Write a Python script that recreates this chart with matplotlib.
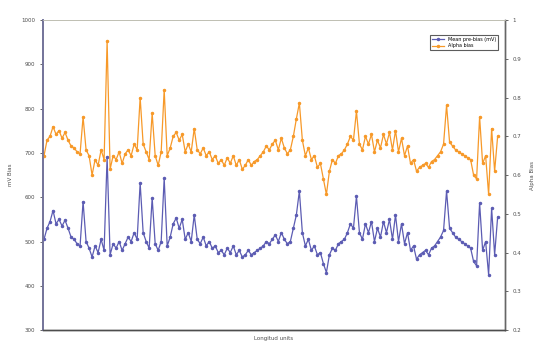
import matplotlib.pyplot as plt
import numpy as np

# mean pre-bias (left axis, mV), one value per sample
pre_bias = [
    505, 530, 545, 570, 540, 550, 535, 548, 530, 510,
    505, 495, 490, 590, 500, 485, 465, 490, 475, 505,
    480, 690, 470, 495, 485, 500, 480, 495, 510, 500,
    520, 505, 632, 520, 500, 485, 598, 495, 480, 500,
    643, 490, 510, 540, 553, 530, 550, 505, 520, 500,
    560, 505, 495, 510, 490, 500, 485, 490, 475, 480,
    470, 485, 475, 490, 470, 480, 465, 470, 480, 470,
    475, 480, 485, 490, 500, 495, 505, 515, 500, 520,
    505, 495, 500, 530, 560, 614, 520, 490, 505, 480,
    490, 470, 475, 450, 430, 470, 485, 480, 495, 500,
    505, 520, 540, 530, 602, 520, 505, 540, 520, 545,
    500, 530, 510, 545, 520, 550, 505, 560, 500, 540,
    495, 520, 480, 490, 460, 470, 475, 480, 470, 485,
    490, 500, 510, 525, 614, 530, 520, 510, 505, 500,
    495, 490, 485, 455, 445, 587, 480, 500, 425, 575,
    470, 555,
]

# alpha bias (right axis)
alpha_bias = [
    0.650, 0.690, 0.700, 0.725, 0.705, 0.715, 0.695, 0.710, 0.690, 0.675,
    0.670, 0.660, 0.655, 0.750, 0.665, 0.650, 0.600, 0.640, 0.625, 0.665,
    0.640, 0.946, 0.615, 0.650, 0.640, 0.660, 0.630, 0.655, 0.665, 0.650,
    0.680, 0.665, 0.800, 0.680, 0.660, 0.640, 0.760, 0.650, 0.625, 0.660,
    0.820, 0.650, 0.670, 0.700, 0.710, 0.690, 0.705, 0.660, 0.680, 0.660,
    0.720, 0.665, 0.655, 0.670, 0.650, 0.660, 0.640, 0.650, 0.630, 0.640,
    0.625, 0.645, 0.630, 0.650, 0.625, 0.640, 0.615, 0.625, 0.640, 0.625,
    0.635, 0.640, 0.650, 0.660, 0.675, 0.665, 0.680, 0.690, 0.665, 0.695,
    0.670, 0.655, 0.665, 0.700, 0.745, 0.786, 0.690, 0.650, 0.670, 0.640,
    0.650, 0.620, 0.630, 0.590, 0.550, 0.610, 0.640, 0.630, 0.650, 0.655,
    0.665, 0.680, 0.700, 0.690, 0.765, 0.680, 0.665, 0.700, 0.680, 0.705,
    0.660, 0.690, 0.670, 0.705, 0.680, 0.710, 0.665, 0.715, 0.660, 0.695,
    0.650, 0.675, 0.630, 0.640, 0.610, 0.620, 0.625, 0.630, 0.620, 0.635,
    0.640, 0.650, 0.660, 0.680, 0.780, 0.685, 0.675, 0.665, 0.660, 0.655,
    0.650, 0.645, 0.640, 0.600, 0.590, 0.750, 0.630, 0.650, 0.550, 0.720,
    0.610, 0.700,
]

left_ticks = [300, 400, 500, 600, 700, 800, 900, 1000]
right_ticks = [0.2, 0.3, 0.4, 0.5, 0.6, 0.7, 0.8, 0.9, 1]


def main():
    width = 542
    height = 346
    ppi = 100
    fig = plt.figure(figsize=(width / ppi, height / ppi), dpi=ppi)
    ax = fig.add_axes([0.079, 0.046, 0.853, 0.896])
    ax2 = ax.twinx()

    blue = (0.36, 0.36, 0.70)
    orange = (0.97, 0.60, 0.16)
    grey = (0.30, 0.30, 0.30)

    xs = np.arange(len(pre_bias))

    l1, = ax.plot(xs, pre_bias, '-', color=blue, linewidth=0.9,
                  marker='o', markersize=1.5)
    l2, = ax2.plot(xs, alpha_bias, '-', color=orange, linewidth=0.9,
                   marker='o', markersize=1.5)

    ax.set_xlim(-0.4, len(pre_bias) + 1.5)
    ax.set_ylim(300, 1000)
    ax2.set_ylim(0.2, 1)
    ax.set_yticks(left_ticks)
    ax.set_yticklabels([str(t) for t in left_ticks])
    ax2.set_yticks(right_ticks)
    ax2.set_yticklabels([str(t) for t in right_ticks])
    ax.set_xticks([])

    ax.tick_params(axis='y', labelsize=4, colors=grey, length=2, width=0.6)
    ax2.tick_params(axis='y', labelsize=4, colors=grey, length=2, width=0.6)

    for a in (ax, ax2):
        a.spines['top'].set_color((0.75, 0.75, 0.70))
        a.spines['top'].set_linewidth(0.6)
        a.spines['bottom'].set_color((0.30, 0.30, 0.30))
        a.spines['bottom'].set_linewidth(1.0)
        a.spines['left'].set_color((0.45, 0.45, 0.60))
        a.spines['left'].set_linewidth(1.2)
        a.spines['right'].set_color((0.40, 0.40, 0.40))
        a.spines['right'].set_linewidth(1.0)

    ax.set_ylabel('mV Bias', fontsize=4, color=grey, labelpad=6)
    ax2.set_ylabel('Alpha Bias', fontsize=4, color=grey, labelpad=6)
    ax.set_xlabel('Longitud units', fontsize=4, color=grey, labelpad=4)

    leg = ax.legend([l1, l2], ['Mean pre-bias (mV)', 'Alpha bias'],
                    loc='upper right', bbox_to_anchor=(0.99, 0.96),
                    fontsize=3.5, frameon=True, fancybox=False,
                    handlelength=2.5, borderpad=0.4, labelspacing=0.3)
    leg.get_frame().set_edgecolor((0.2, 0.2, 0.2))
    leg.get_frame().set_linewidth(0.8)

    fig.savefig('out.png', dpi=ppi)


if __name__ == '__main__':
    main()
